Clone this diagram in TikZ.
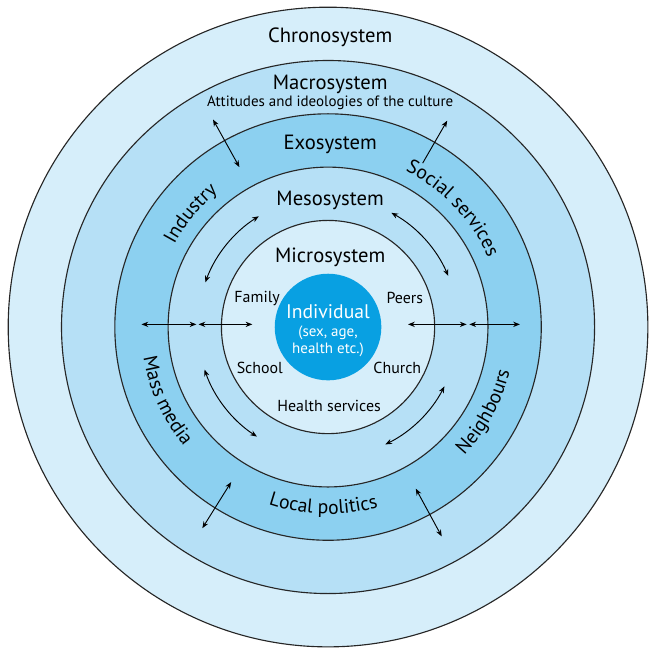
\documentclass[tikz,border=0pt]{standalone}
\usepackage{fontspec}
\setmainfont{PT Sans}
\usetikzlibrary{arrows.meta}
\usetikzlibrary{decorations.text}
\definecolor{ringpale}{RGB}{214,238,250}
\definecolor{ringmid}{RGB}{182,224,246}
\definecolor{ringdeep}{RGB}{140,208,240}
\definecolor{corecol}{RGB}{8,160,226}
\newcommand*{\rin }{3.27}
\newcommand*{\rout}{3.51}
\newcommand*{\rmes}{2.45}
\newcommand*{\labfont}{\fontsize{10.5}{12}\selectfont}
\newcommand*{\smfont }{\fontsize{8.5}{10}\selectfont}
\tikzset{
    link/.style = {line width=0.5pt, {Stealth[length=3.6pt,width=2.8pt]}-{Stealth[length=3.6pt,width=2.8pt]}},
    ring/.style = {line width=0.6pt, draw=black!85},
    ringtext/.style = {decorate, decoration={text along path, text align=center, text={|\labfont|#1}}}
}

\begin{document}
\begin{tikzpicture}
        \useasboundingbox (-6.154,-6.04) rectangle (6.02,6.135);
        % the nested systems
        \draw [ring, fill=ringpale] (0,0) circle (6);
        \draw [ring, fill=ringmid ] (0,0) circle (5);
        \draw [ring, fill=ringdeep] (0,0) circle (4);
        \draw [ring, fill=ringmid ] (0,0) circle (3);
        \draw [ring, fill=ringpale] (0,0) circle (2);
        \fill [corecol] (0,0) circle (1.0);

        % arrows across the exosystem border
        \coordinate (nw-in)  at (119:3.43);  \coordinate (nw-out) at (119:4.45);
        \coordinate (ne-in)  at (60:3.55);   \coordinate (ne-out) at (60:4.47);
        \coordinate (sw-in)  at (238:3.43);  \coordinate (sw-out) at (238:4.45);
        \coordinate (se-in)  at (-61.5:3.45);\coordinate (se-out) at (-61.5:4.47);
        \draw [link] (nw-in) -- (nw-out);
        \draw [link, {}-{Stealth[length=3.6pt,width=2.8pt]}] (ne-in) -- (ne-out);
        \draw [link] (sw-in) -- (sw-out);
        \draw [link] (se-in) -- (se-out);

        % horizontal arrows
        \coordinate (w1) at (-3.5,0.05);  \coordinate (w2) at (-2.47,0.05);
        \coordinate (w3) at (-2.43,0.05); \coordinate (w4) at (-1.42,0.05);
        \coordinate (e1) at (1.5,0.05);   \coordinate (e2) at (2.6,0.05);
        \coordinate (e3) at (2.65,0.05);  \coordinate (e4) at (3.6,0.05);
        \draw [link] (w1) -- (w2);
        \draw [link] (w3) -- (w4);
        \draw [link] (e1) -- (e2);
        \draw [link] (e3) -- (e4);

        % curved arrows in the mesosystem
        \coordinate (mnw) at (122:\rmes);
        \coordinate (mne) at (23:\rmes);
        \coordinate (msw) at (199:\rmes);
        \coordinate (mse) at (-64:\rmes);
        \draw [link] (mnw) arc [start angle=122, end angle=160, radius=\rmes];
        \draw [link] (mne) arc [start angle=23,  end angle=61,  radius=\rmes];
        \draw [link] (msw) arc [start angle=199, end angle=237, radius=\rmes];
        \draw [link] (mse) arc [start angle=-64, end angle=-27, radius=\rmes];

        % ring titles
        \node (chrono) at (0.04,5.44) {\fontsize{11}{13}\selectfont Chronosystem};
        \node (macro)  at (0.04,4.55) {\fontsize{11}{13}\selectfont Macrosystem};
        \node (ideas)  at (0.04,4.21) {\fontsize{8}{10}\selectfont Attitudes and ideologies of the culture};
        \node (exo)    at (0.04,3.43) {\fontsize{11}{13}\selectfont Exosystem};
        \node (meso)   at (0.04,2.38) {\fontsize{11}{13}\selectfont Mesosystem};
        \node (micro)  at (0.04,1.31) {\fontsize{11}{13}\selectfont Microsystem};
        \node [text=white] (indiv) at (0,0.28) {\fontsize{10.5}{12}\selectfont Individual};
        \node [text=white, align=center, font=\fontsize{8}{9}\selectfont] (traits) at (0,-0.27) {(sex, age,\\health etc.)};

        % microsystem settings
        \node (family) at (-1.33,0.54)  {\smfont Family};
        \node (peers)  at (1.44,0.54)   {\smfont Peers};
        \node (school) at (-1.28,-0.77) {\smfont School};
        \node (church) at (1.30,-0.77)  {\smfont Church};
        \node (health) at (0.02,-1.48)  {\smfont Health services};

        % exosystem settings, set along the ring
        \path [ringtext=Industry]        (175:\rin) arc (175:106:\rin);
        \path [ringtext=Social services] (80:\rin)  arc (80:7:\rin);
        \path [ringtext=Mass media]      (168:\rout) arc (168:241:\rout);
        \path [ringtext=Neighbours]      (-66:\rout) arc (-66:9:\rout);
        \path [ringtext=Local politics]  (-127:\rout) arc (-127:-56:\rout);
    \end{tikzpicture}
\end{document}
